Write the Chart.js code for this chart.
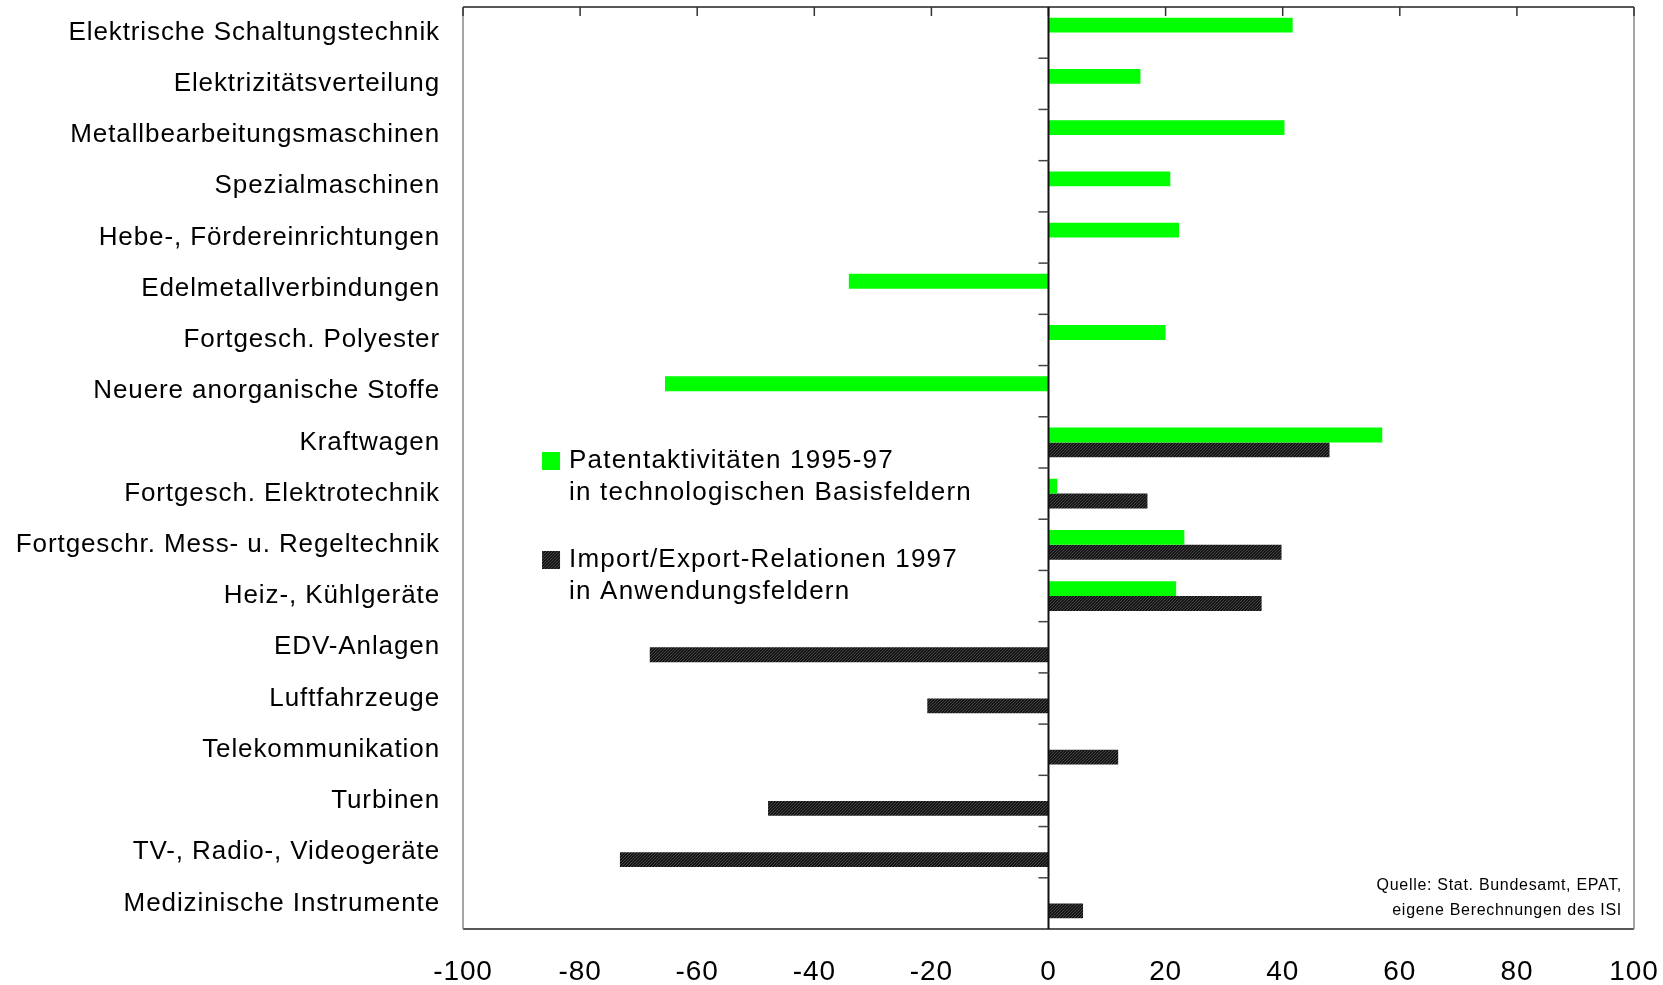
<!DOCTYPE html>
<html>
<head>
<meta charset="utf-8">
<script src="https://cdn.jsdelivr.net/npm/chart.js@4/dist/chart.umd.min.js"></script>
<style>
  body { margin: 0; background: #fff; }
  #wrap { width: 1663px; height: 985px; position: relative; }
</style>
</head>
<body>
<div id="wrap"><canvas id="chart"></canvas></div>
<script>
const categories = [
  'Elektrische Schaltungstechnik',
  'Elektrizitätsverteilung',
  'Metallbearbeitungsmaschinen',
  'Spezialmaschinen',
  'Hebe-, Fördereinrichtungen',
  'Edelmetallverbindungen',
  'Fortgesch. Polyester',
  'Neuere anorganische Stoffe',
  'Kraftwagen',
  'Fortgesch. Elektrotechnik',
  'Fortgeschr. Mess- u. Regeltechnik',
  'Heiz-, Kühlgeräte',
  'EDV-Anlagen',
  'Luftfahrzeuge',
  'Telekommunikation',
  'Turbinen',
  'TV-, Radio-, Videogeräte',
  'Medizinische Instrumente'
];

const patentValues = [41.7, 15.7, 40.3, 20.8, 22.3, -34.1, 20.0, -65.5, 57.0, 1.5, 23.2, 21.8, null, null, null, null, null, null];
const tradeValues = [null, null, null, null, null, null, null, null, 48.0, 16.9, 39.8, 36.4, -68.1, -20.7, 11.9, -47.9, -73.2, 5.9];

const seriesLabels = [
  ['Patentaktivitäten 1995-97', 'in technologischen Basisfeldern'],
  ['Import/Export-Relationen 1997', 'in Anwendungsfeldern']
];
const sourceLines = ['Quelle: Stat. Bundesamt, EPAT,', 'eigene Berechnungen des ISI'];

const FONT = 'Arial, "Liberation Sans", sans-serif';

// fine diagonal hatch for the dark bars
function makeHatch() {
  const c = document.createElement('canvas');
  c.width = 3; c.height = 3;
  const g = c.getContext('2d');
  g.fillStyle = '#151515';
  g.fillRect(0, 0, 3, 3);
  g.fillStyle = '#454545';
  g.fillRect(2, 0, 1, 1);
  g.fillRect(1, 1, 1, 1);
  g.fillRect(0, 2, 1, 1);
  return g.createPattern(c, 'repeat');
}
const hatch = makeHatch();
const green = '#00ff00';

// the original text is set a little wide
const spacing = {
  id: 'spacing',
  beforeDraw(chart) {
    chart.ctx.letterSpacing = '0.9px';
  }
};

// frame, zero line, inner ticks, legend and source note
const decorations = {
  id: 'decorations',
  afterDatasetsDraw(chart) {
    const ctx = chart.ctx;
    const a = chart.chartArea;
    const x = chart.scales.x;
    const y = chart.scales.y;
    ctx.save();

    // frame
    ctx.lineWidth = 1.5;
    ctx.strokeStyle = '#222';
    ctx.beginPath();
    ctx.moveTo(a.left, a.top); ctx.lineTo(a.right, a.top);
    ctx.moveTo(a.left, a.bottom); ctx.lineTo(a.right, a.bottom);
    ctx.stroke();
    ctx.strokeStyle = '#888';
    ctx.beginPath();
    ctx.moveTo(a.left, a.top); ctx.lineTo(a.left, a.bottom);
    ctx.moveTo(a.right, a.top); ctx.lineTo(a.right, a.bottom);
    ctx.stroke();

    // value ticks on the top edge, pointing in
    ctx.strokeStyle = '#333';
    x.ticks.forEach(t => {
      const px = x.getPixelForValue(t.value);
      ctx.beginPath();
      ctx.moveTo(px, a.top);
      ctx.lineTo(px, a.top + 9);
      ctx.stroke();
    });

    // zero line with category ticks
    const zx = x.getPixelForValue(0);
    ctx.strokeStyle = '#111';
    ctx.lineWidth = 2;
    ctx.beginPath();
    ctx.moveTo(zx, a.top); ctx.lineTo(zx, a.bottom);
    ctx.stroke();
    ctx.lineWidth = 1.5;
    ctx.strokeStyle = '#444';
    for (let i = 1; i < categories.length; i++) {
      const py = (y.getPixelForValue(i - 1) + y.getPixelForValue(i)) / 2;
      ctx.beginPath();
      ctx.moveTo(zx - 10, py);
      ctx.lineTo(zx, py);
      ctx.stroke();
    }

    // legend inside plot
    const fills = [green, hatch];
    const lx = x.getPixelForValue(-86.5);
    const rows = [461, 560];
    ctx.font = '26px ' + FONT;
    ctx.letterSpacing = '1.2px';
    ctx.textBaseline = 'middle';
    ctx.textAlign = 'left';
    seriesLabels.forEach((lines, i) => {
      ctx.fillStyle = fills[i];
      ctx.fillRect(lx, rows[i] - 9, 18, 18);
      ctx.fillStyle = '#000';
      lines.forEach((txt, j) => ctx.fillText(txt, lx + 27, rows[i] + j * 32));
    });

    // source note
    ctx.font = '16px ' + FONT;
    ctx.letterSpacing = '0.7px';
    ctx.textAlign = 'right';
    ctx.fillText(sourceLines[0], a.right - 12, 886);
    ctx.fillText(sourceLines[1], a.right - 12, 911);

    ctx.restore();
  }
};

new Chart(document.getElementById('chart'), {
  type: 'bar',
  data: {
    labels: categories,
    datasets: [
      { label: seriesLabels[0].join(' '), data: patentValues, backgroundColor: green },
      { label: seriesLabels[1].join(' '), data: tradeValues, backgroundColor: hatch }
    ]
  },
  options: {
    indexAxis: 'y',
    responsive: true,
    maintainAspectRatio: false,
    animation: false,
    categoryPercentage: 0.58,
    barPercentage: 1.0,
    layout: { padding: { top: 7, right: 29, left: 0, bottom: 0 } },
    plugins: { legend: { display: false }, tooltip: { enabled: false } },
    scales: {
      x: {
        min: -100, max: 100,
        ticks: { stepSize: 20, color: '#000', font: { family: FONT, size: 28 }, padding: 26 },
        grid: { display: false, drawTicks: false },
        border: { display: false },
        afterFit: s => { s.height = 56; s.paddingLeft = 0; s.paddingRight = 0; }
      },
      y: {
        ticks: { color: '#000', font: { family: FONT, size: 26 }, padding: 23, autoSkip: false },
        grid: { display: false, drawTicks: false },
        border: { display: false },
        afterFit: s => { s.width = 463; s.paddingTop = 0; s.paddingBottom = 0; }
      }
    }
  },
  plugins: [spacing, decorations]
});
</script>
</body>
</html>
